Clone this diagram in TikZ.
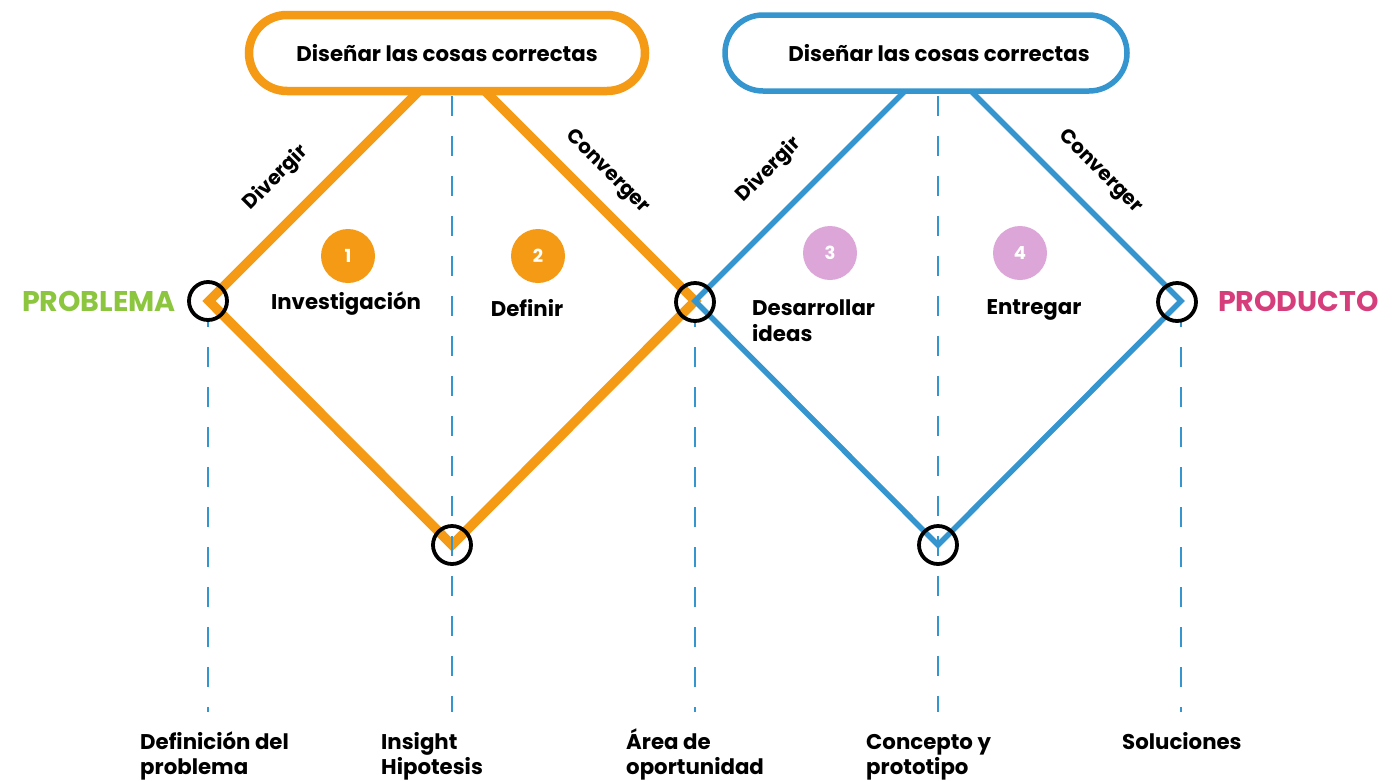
\documentclass[tikz,border=0pt]{standalone}
\usepackage{fontspec}
\setmainfont{Poppins}
\definecolor{dorange}{HTML}{F59A14}
\definecolor{dblue}{HTML}{3596CF}
\definecolor{dpink}{HTML}{DDA6D8}
\definecolor{dgreen}{HTML}{8CC63F}
\definecolor{dmagenta}{HTML}{D63D7B}
\newcommand\tstrut{\rule{0pt}{22pt}}
\begin{document}
\begin{tikzpicture}[x=1pt,y=-1pt,
  orangeline/.style={draw=dorange,line width=9.5pt,line join=miter},
  blueline/.style={draw=dblue,line width=5.5pt,line join=miter},
  guide/.style={draw=dblue,line width=2.6pt,dash pattern=on 20pt off 20pt},
  ring/.style={draw=black,line width=3.8pt,circle,minimum size=38pt,inner sep=0pt},
  topbox/.style={rounded corners=38pt,fill=white,minimum width=396pt,minimum height=76pt,inner sep=0pt},
  toptext/.style={inner sep=0pt,font=\fontsize{21.3}{24}\selectfont\bfseries},
  numdot/.style={circle,minimum size=54pt,inner sep=0pt,text=white,font=\fontsize{18}{20}\selectfont\bfseries},
  phase/.style={inner sep=0pt,font=\fontsize{21.3}{26}\selectfont\bfseries},
  diag/.style={inner sep=0pt,font=\fontsize{20}{22}\selectfont\bfseries},
  bottomlabel/.style={inner sep=0pt,anchor=north west,align=left,font=\fontsize{21.3}{25}\selectfont\bfseries},
  endlabel/.style={inner sep=0pt,font=\fontsize{28.5}{32}\selectfont\bfseries}]
\useasboundingbox (0,0) rectangle (1392,780);
\fill[white] (0,0) rectangle (1392,780);
% vertices
\coordinate (oL) at (209,301);
\coordinate (oT) at (452,58);
\coordinate (oB) at (452,545);
\coordinate (oR) at (695,301);
\coordinate (bT) at (938,58);
\coordinate (bB) at (938,545);
\coordinate (bR) at (1181,301);
% diamonds
\draw[orangeline] (oL) -- (oT) -- (oR) -- (oB) -- cycle;
\draw[blueline] (oR) -- (bT) -- (bR) -- (bB) -- cycle;
% top boxes
\node[topbox,draw=dorange,line width=8.5pt] (boxL) at (447,53) {};
\node[topbox,draw=dblue,line width=5.5pt,minimum width=402pt] (boxR) at (926,53) {};
\node[toptext] (tL) at (447,53) {Diseñar las cosas correctas};
\node[toptext] (tR) at (939,53) {Diseñar las cosas correctas};
% guide lines
\coordinate (g1t) at (208,322); \coordinate (g1b) at (208,712);
\coordinate (g2t) at (452,96); \coordinate (g2b) at (452,712);
\coordinate (g3t) at (695,322); \coordinate (g3b) at (695,712);
\coordinate (g4t) at (938,96); \coordinate (g4b) at (938,712);
\coordinate (g5t) at (1181,322); \coordinate (g5b) at (1181,712);
\draw[guide] (g2t) -- (g2b);
\draw[guide] (g4t) -- (g4b);
\draw[guide,dash phase=15pt] (g1t) -- (g1b);
\draw[guide,dash phase=15pt] (g3t) -- (g3b);
\draw[guide,dash phase=15pt] (g5t) -- (g5b);
% rings
\node[ring] (r1) at (208,301) {};
\node[ring] (r2) at (695,302) {};
\node[ring] (r3) at (452,545) {};
\node[ring] (r4) at (938,545) {};
\node[ring] (r5) at (1177,302) {};
% diagonal labels
\node[diag,rotate=45] (dv1) at (276,178) {Divergir};
\node[diag,rotate=-45] (cv1) at (607,172) {Converger};
\node[diag,rotate=45] (dv2) at (769,170) {Divergir};
\node[diag,rotate=-45] (cv2) at (1100,172) {Converger};
% number dots
\node[numdot,fill=dorange] (n1) at (348,256) {1};
\node[numdot,fill=dorange] (n2) at (538,256) {2};
\node[numdot,fill=dpink] (n3) at (830,253) {3};
\node[numdot,fill=dpink] (n4) at (1020,253) {4};
% phase labels
\node[phase] (p1) at (346,304) {Investigación};
\node[phase] (p2) at (527,308) {Definir};
\node[phase,align=left,anchor=north west] (p3) at (752,293) {\tstrut Desarrollar\\ideas};
\node[phase] (p4) at (1034,310) {Entregar};
% end labels
\node[endlabel,text=dgreen,anchor=east] (prob) at (176,301) {PROBLEMA};
\node[endlabel,text=dmagenta,anchor=west] (prod) at (1218,301) {PRODUCTO};
% bottom labels
\node[bottomlabel] (b1) at (140,727) {\tstrut Definición del\\problema};
\node[bottomlabel] (b2) at (381,727) {\tstrut Insight\\Hipotesis};
\node[bottomlabel] (b3) at (626,727) {\tstrut Área de\\oportunidad};
\node[bottomlabel] (b4) at (866,727) {\tstrut Concepto y\\prototipo};
\node[bottomlabel] (b5) at (1122,727) {\tstrut Soluciones};
\end{tikzpicture}
\end{document}
